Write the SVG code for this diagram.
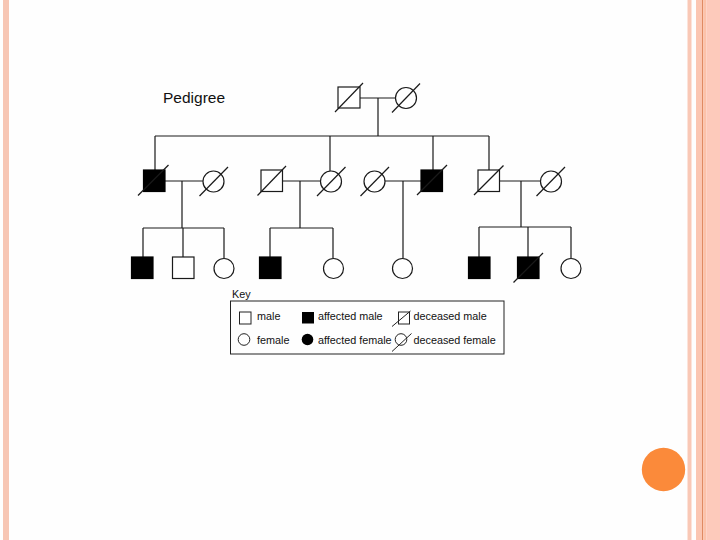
<svg xmlns="http://www.w3.org/2000/svg" width="720" height="540" viewBox="0 0 720 540">
<style>
.ln{stroke:#1a1a1a;stroke-width:1.2;fill:none}
.sym{stroke:#1a1a1a;stroke-width:1.2;fill:#fff}
.aff{stroke:#000;stroke-width:1.2;fill:#000}
.sl{stroke:#1a1a1a;stroke-width:1.2}
.t{font-family:"Liberation Sans",Arial,sans-serif;fill:#111}
.k{font-size:10.8px}
</style>
<rect width="720" height="540" fill="#fefefe"/>
<g id="frame">
<rect x="3" y="0" width="6" height="540" fill="#f7c6b4"/>
<rect x="687.5" y="0" width="4" height="540" fill="#f9c8b6"/>
<rect x="696" y="0" width="6" height="540" fill="#fbc6b2"/>
<rect x="702" y="0" width="1.3" height="540" fill="#e08a62"/>
<rect x="703.3" y="0" width="3" height="540" fill="#fcc2aa"/>
<rect x="706.3" y="0" width="13.7" height="540" fill="#fdcabb"/>
<circle cx="663.5" cy="469.5" r="21.7" fill="#fb8a3a"/>
</g>
<text class="t" x="163" y="103" font-size="15.5">Pedigree</text>
<g id="connectors">
<path class="ln" d="M360 98H396M378 98V136M155 136H489M155 136V170M330 136V171M433 136V170M489 136V170"/>
<path class="ln" d="M165 181H203M182 181V228M143 228H224M143 228V257M183 228V257M224 228V258"/>
<path class="ln" d="M283 181H321M300 181V228M270 228H333M270 228V257M333 228V258"/>
<path class="ln" d="M384 181H421M403 181V258"/>
<path class="ln" d="M499 181H541M521 181V227M479 227H571M479 227V257M528 227V257M571 227V258"/>
</g>
<g id="gen1-male"><rect class="sym" x="338" y="87" width="22" height="21"/><line class="sl" x1="335" y1="112" x2="363" y2="83"/></g>
<g id="gen1-female"><circle class="sym" cx="406" cy="98" r="10.5"/><line class="sl" x1="392" y1="112.5" x2="420" y2="83.5"/></g>
<g id="gen2-m1"><rect class="aff" x="143.5" y="170" width="21.5" height="21.5"/><line class="sl" x1="138" y1="195.5" x2="168.5" y2="165"/></g>
<g id="gen2-f1"><circle class="sym" cx="213.5" cy="181.5" r="10.5"/><line class="sl" x1="199.5" y1="196" x2="228" y2="167"/></g>
<g id="gen2-m2"><rect class="sym" x="261" y="170" width="21.5" height="21.5"/><line class="sl" x1="257.5" y1="195.5" x2="286" y2="166"/></g>
<g id="gen2-f2"><circle class="sym" cx="331" cy="181.5" r="10.5"/><line class="sl" x1="317" y1="196" x2="345.5" y2="167"/></g>
<g id="gen2-f3"><circle class="sym" cx="374.5" cy="181.5" r="10.5"/><line class="sl" x1="360.5" y1="196" x2="389" y2="167"/></g>
<g id="gen2-m3"><rect class="aff" x="421" y="170" width="21.5" height="21.5"/><line class="sl" x1="417" y1="195" x2="447" y2="165"/></g>
<g id="gen2-m4"><rect class="sym" x="478" y="170" width="21.5" height="21.5"/><line class="sl" x1="474" y1="195" x2="503.5" y2="165.5"/></g>
<g id="gen2-f4"><circle class="sym" cx="551" cy="181.5" r="10.5"/><line class="sl" x1="536.5" y1="196" x2="565" y2="167"/></g>
<g id="gen3-m1"><rect class="aff" x="131.5" y="257" width="21.5" height="21.5"/></g>
<g id="gen3-m2"><rect class="sym" x="172.5" y="257" width="21.5" height="21.5"/></g>
<g id="gen3-f1"><circle class="sym" cx="224" cy="268.5" r="10"/></g>
<g id="gen3-m3"><rect class="aff" x="259.5" y="257" width="21.5" height="21.5"/></g>
<g id="gen3-f2"><circle class="sym" cx="333.5" cy="268.5" r="10"/></g>
<g id="gen3-f3"><circle class="sym" cx="402.5" cy="268.5" r="10"/></g>
<g id="gen3-m4"><rect class="aff" x="468.5" y="257" width="21.5" height="21.5"/></g>
<g id="gen3-m5"><rect class="aff" x="517.5" y="257" width="21.5" height="21.5"/><line class="sl" x1="513.5" y1="282.5" x2="543" y2="253"/></g>
<g id="gen3-f4"><circle class="sym" cx="571" cy="268.5" r="10"/></g>
<g id="key">
<text class="t k" x="232" y="298">Key</text>
<rect x="230.5" y="301" width="273.5" height="53" fill="none" stroke="#222" stroke-width="1"/>
<rect x="239.5" y="312" width="11.5" height="12" fill="#fff" stroke="#222" stroke-width="1"/>
<text class="t k" x="257" y="319.5">male</text>
<rect x="302" y="312" width="12" height="11.5" fill="#000"/>
<text class="t k" x="318" y="319.5">affected male</text>
<rect x="398.5" y="312" width="11" height="12" fill="#fff" stroke="#222" stroke-width="1"/>
<line x1="392" y1="326.5" x2="410.5" y2="311" stroke="#222" stroke-width="1"/>
<text class="t k" x="413.5" y="319.5">deceased male</text>
<circle cx="244" cy="339.5" r="5.8" fill="#fff" stroke="#222" stroke-width="1"/>
<text class="t k" x="257" y="344">female</text>
<circle cx="307.5" cy="339.5" r="5.8" fill="#000"/>
<text class="t k" x="318" y="344">affected female</text>
<circle cx="401" cy="339.5" r="5.8" fill="#fff" stroke="#222" stroke-width="1"/>
<line x1="392" y1="351.5" x2="411.5" y2="333.5" stroke="#222" stroke-width="1"/>
<text class="t k" x="413.5" y="344">deceased female</text>
</g>
</svg>
